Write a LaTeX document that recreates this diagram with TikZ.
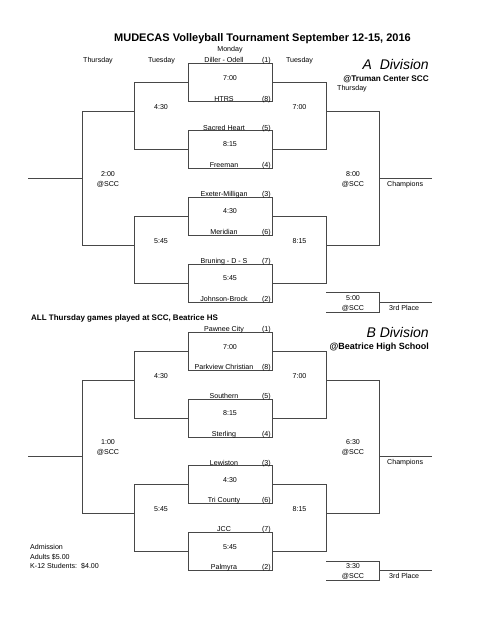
\documentclass[tikz,border=0pt]{standalone}
\usepackage{fontspec}
\setmainfont{Liberation Sans}
\begin{document}
\begin{tikzpicture}[x=1pt,y=-1pt,
  wire/.style={draw=black!72, line width=1pt},
  mbox/.style={wire, rectangle, minimum width=84pt, minimum height=38pt, inner sep=0pt},
  txt/.style={font=\fontsize{7.1}{8.5}\selectfont, inner sep=0pt, anchor=base},
  team/.style={txt},
  seed/.style={txt, anchor=base east},
  lft/.style={txt, anchor=base west},
  divis/.style={font=\itshape\fontsize{14}{16}\selectfont, inner sep=0pt, anchor=base east},
  ]
\useasboundingbox (0,0) rectangle (487,630);

% ---------- headings ----------
\node[font=\bfseries\fontsize{11}{13}\selectfont, anchor=base, inner sep=0pt] (title) at (262.5,41) {MUDECAS Volleyball Tournament September 12-15, 2016};
\node[txt] (hmon) at (230,51.5) {Monday};
\node[txt] (hthu) at (98,62) {Thursday};
\node[txt] (htue1) at (161.5,62) {Tuesday};
\node[txt] (htue2) at (299.5,62) {Tuesday};
\node[divis] (adiv) at (429,69) {A\ \ Division};
\node[font=\bfseries\fontsize{8.2}{10}\selectfont, inner sep=0pt, anchor=base east] (aloc) at (429,81) {@Truman Center SCC};
\node[lft] (athu) at (337,90.5) {Thursday};

% ---------- A division boxes ----------
\node[mbox] (a1) at (230,82.5) {};
\node[mbox] (a2) at (230,149.5) {};
\node[mbox] (a3) at (230,216) {};
\node[mbox] (a4) at (230,283) {};

\node[txt] (ta1) at (230,80.5) {7:00};
\node[txt] (ta2) at (230,146.5) {8:15};
\node[txt] (ta3) at (230,213.5) {4:30};
\node[txt] (ta4) at (230,280.5) {5:45};

\node[team] (n1) at (224,62) {Diller - Odell};   \node[seed] (s1) at (271,62) {(1)};
\node[team] (n8) at (224,101) {HTRS};            \node[seed] (s8) at (271,101) {(8)};
\node[team] (n5) at (224,130) {Sacred Heart};    \node[seed] (s5) at (271,130) {(5)};
\node[team] (n4) at (224,167) {Freeman};         \node[seed] (s4) at (271,167) {(4)};
\node[team] (n3) at (224,196) {Exeter-Milligan}; \node[seed] (s3) at (271,196) {(3)};
\node[team] (n6) at (224,234) {Meridian};        \node[seed] (s6) at (271,234) {(6)};
\node[team] (n7) at (224,263) {Bruning - D - S}; \node[seed] (s7) at (271,263) {(7)};
\node[team] (n2) at (224,301) {Johnson-Brock};   \node[seed] (s2) at (271,301) {(2)};

\coordinate (qa1) at (134,111);
\coordinate (qa2) at (134,245);
\coordinate (wa1) at (326,111);
\coordinate (wa2) at (326,245);
\coordinate (sa) at (82,178);
\coordinate (ea) at (28,178);
\coordinate (fa) at (379,178);
\coordinate (ca) at (432,178);

\draw[wire] (a1.west) -- (a1.west -| qa1) -- (a2.west -| qa1) -- (a2.west);
\draw[wire] (a3.west) -- (a3.west -| qa2) -- (a4.west -| qa2) -- (a4.west);
\draw[wire] (a1.east) -- (a1.east -| wa1) -- (a2.east -| wa1) -- (a2.east);
\draw[wire] (a3.east) -- (a3.east -| wa2) -- (a4.east -| wa2) -- (a4.east);
\draw[wire] (qa1) -- (qa1 -| sa) -- (qa2 -| sa) -- (qa2);
\draw[wire] (wa1) -- (wa1 -| fa) -- (wa2 -| fa) -- (wa2);
\draw[wire] (sa) -- (ea);
\draw[wire] (fa) -- (ca);

\node[txt] (tqa1) at (161,109.5) {4:30};
\node[txt] (twa1) at (299.5,109.5) {7:00};
\node[txt] (tqa2) at (161,243.5) {5:45};
\node[txt] (twa2) at (299.5,243.5) {8:15};
\node[txt] (tsa) at (108,176.5) {2:00};
\node[txt] (tsa2) at (108,186.5) {@SCC};
\node[txt] (tfa) at (353,176.5) {8:00};
\node[txt] (tfa2) at (353,186.5) {@SCC};
\node[lft] (champa) at (387,186.5) {Champions};

\coordinate (pat) at (326,292);
\coordinate (pab) at (326,312);
\coordinate (pa) at (379,302);
\coordinate (pae) at (432,302);
\draw[wire] (pat) -- (pat -| pa) -- (pab -| pa) -- (pab);
\draw[wire] (pa) -- (pae);
\node[txt] (tpa) at (353,300.5) {5:00};
\node[txt] (tpa2) at (353,310.5) {@SCC};
\node[lft] (thirda) at (389,310.5) {3rd Place};

% ---------- middle notes ----------
\node[font=\bfseries\fontsize{8}{10}\selectfont, inner sep=0pt, anchor=base west] (note) at (31,320) {ALL Thursday games played at SCC, Beatrice HS};
\node[divis] (bdiv) at (429,337) {B Division};
\node[font=\bfseries\fontsize{9}{11}\selectfont, inner sep=0pt, anchor=base east] (bloc) at (429,349) {@Beatrice High School};

% ---------- B division boxes ----------
\node[mbox] (b1) at (230,351) {};
\node[mbox] (b2) at (230,418) {};
\node[mbox] (b3) at (230,484.5) {};
\node[mbox] (b4) at (230,551) {};

\node[txt] (tb1) at (230,349.5) {7:00};
\node[txt] (tb2) at (230,415.5) {8:15};
\node[txt] (tb3) at (230,482.5) {4:30};
\node[txt] (tb4) at (230,549.5) {5:45};

\node[team] (m1) at (224,331) {Pawnee City};        \node[seed] (r1) at (271,331) {(1)};
\node[team] (m8) at (224,369) {Parkview Christian}; \node[seed] (r8) at (271,369) {(8)};
\node[team] (m5) at (224,398) {Southern};           \node[seed] (r5) at (271,398) {(5)};
\node[team] (m4) at (224,436) {Sterling};           \node[seed] (r4) at (271,436) {(4)};
\node[team] (m3) at (224,465) {Lewiston};           \node[seed] (r3) at (271,465) {(3)};
\node[team] (m6) at (224,502) {Tri County};         \node[seed] (r6) at (271,502) {(6)};
\node[team] (m7) at (224,531) {JCC};                \node[seed] (r7) at (271,531) {(7)};
\node[team] (m2) at (224,569) {Palmyra};            \node[seed] (r2) at (271,569) {(2)};

\coordinate (qb1) at (134,380);
\coordinate (qb2) at (134,513);
\coordinate (wb1) at (326,380);
\coordinate (wb2) at (326,513);
\coordinate (sb) at (82,456);
\coordinate (eb) at (28,456);
\coordinate (fb) at (379,456);
\coordinate (cb) at (432,456);

\draw[wire] (b1.west) -- (b1.west -| qb1) -- (b2.west -| qb1) -- (b2.west);
\draw[wire] (b3.west) -- (b3.west -| qb2) -- (b4.west -| qb2) -- (b4.west);
\draw[wire] (b1.east) -- (b1.east -| wb1) -- (b2.east -| wb1) -- (b2.east);
\draw[wire] (b3.east) -- (b3.east -| wb2) -- (b4.east -| wb2) -- (b4.east);
\draw[wire] (qb1) -- (qb1 -| sb) -- (qb2 -| sb) -- (qb2);
\draw[wire] (wb1) -- (wb1 -| fb) -- (wb2 -| fb) -- (wb2);
\draw[wire] (sb) -- (eb);
\draw[wire] (fb) -- (cb);

\node[txt] (tqb1) at (161,378.5) {4:30};
\node[txt] (twb1) at (299.5,378.5) {7:00};
\node[txt] (tqb2) at (161,511.5) {5:45};
\node[txt] (twb2) at (299.5,511.5) {8:15};
\node[txt] (tsb) at (108,444.5) {1:00};
\node[txt] (tsb2) at (108,454.5) {@SCC};
\node[txt] (tfb) at (353,444.5) {6:30};
\node[txt] (tfb2) at (353,454.5) {@SCC};
\node[lft] (champb) at (387,464.5) {Champions};

\coordinate (pbt) at (326,561);
\coordinate (pbb) at (326,580);
\coordinate (pb) at (379,570);
\coordinate (pbe) at (432,570);
\draw[wire] (pbt) -- (pbt -| pb) -- (pbb -| pb) -- (pbb);
\draw[wire] (pb) -- (pbe);
\node[txt] (tpb) at (353,568.5) {3:30};
\node[txt] (tpb2) at (353,578.5) {@SCC};
\node[lft] (thirdb) at (389,578.5) {3rd Place};

% ---------- admission ----------
\node[lft] (adm1) at (30,549.5) {Admission};
\node[lft] (adm2) at (30,559.5) {Adults \$5.00};
\node[lft] (adm3) at (30,568.5) {K-12 Students:\ \ \$4.00};
\end{tikzpicture}
\end{document}
